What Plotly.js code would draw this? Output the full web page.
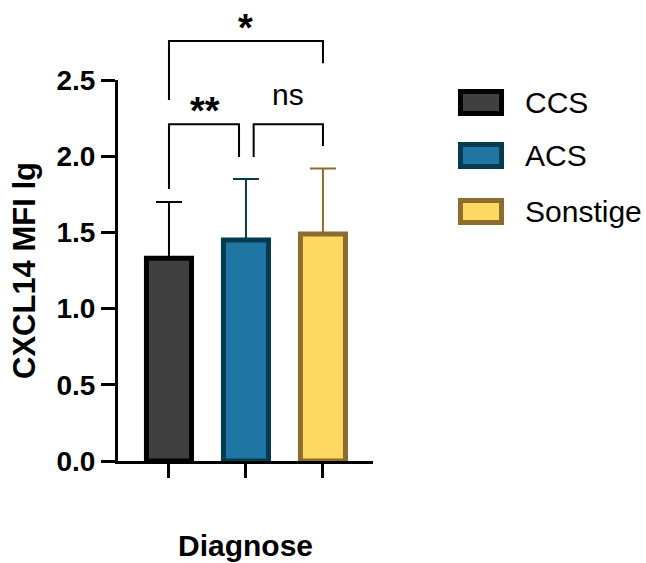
<!DOCTYPE html>
<html>
<head>
<meta charset="utf-8">
<script src="https://cdn.plot.ly/plotly-3.0.1.min.js"></script>
<style>
  html, body { margin: 0; padding: 0; background: #fff; }
  #chart { width: 646px; height: 563px; }
</style>
</head>
<body>
<div id="chart"></div>
<script>
// Group means and upper SD of CXCL14 MFI (lg) per diagnosis
const categories = ['CCS', 'ACS', 'Sonstige'];
const means = [1.33, 1.45, 1.49];
const sdUpper = [0.37, 0.40, 0.43];
const fillColors = ['#404040', '#2076a3', '#fdd862'];
const edgeColors = ['#000000', '#053b4f', '#8c6d2e'];
const yTicks = [0, 0.5, 1.0, 1.5, 2.0, 2.5];
const yTickText = ['0.0', '0.5', '1.0', '1.5', '2.0', '2.5'];

// Significance comparisons: [from, to, bar level, left leg end, right leg end]
const comparisons = [
  [0, 0.91, 2.21, 1.785, 1.995],
  [1.10, 2, 2.21, 1.995, 2.067],
  [0, 2, 2.756, 2.369, 2.61]
];

const yMax = 2.5;
const FONT = 'Liberation Sans, Arial, Helvetica, sans-serif';
const toPaper = v => v / yMax;

const traces = categories.map((name, i) => ({
  type: 'bar',
  name: name,
  x: [i],
  y: [means[i]],
  width: 0.585,
  marker: { color: fillColors[i], line: { color: edgeColors[i], width: 5 } },
  error_y: {
    type: 'data', symmetric: false, array: [sdUpper[i]], arrayminus: [0],
    color: edgeColors[i], thickness: 2, width: 13
  },
  showlegend: false,
  hoverinfo: 'skip'
}));

const shapes = [];
const annotations = [];

comparisons.forEach(([a, b, level, legA, legB]) => {
  shapes.push({
    type: 'path', xref: 'x', yref: 'paper',
    path: `M ${a},${toPaper(legA)} L ${a},${toPaper(level)} L ${b},${toPaper(level)} L ${b},${toPaper(legB)}`,
    line: { color: '#000', width: 2 }
  });
});

annotations.push(
  { text: '**', x: 0.47, y: toPaper(2.21), xref: 'x', yref: 'paper', yanchor: 'bottom', yshift: -10,
    showarrow: false, font: { family: FONT, size: 38, color: '#000', weight: 'bold' } },
  { text: 'ns', x: 1.545, y: toPaper(2.21), xref: 'x', yref: 'paper', yanchor: 'bottom', yshift: 11,
    showarrow: false, font: { family: FONT, size: 30, color: '#000' } },
  { text: '*', x: 1.0, y: toPaper(2.756), xref: 'x', yref: 'paper', yanchor: 'bottom', yshift: -10,
    showarrow: false, font: { family: FONT, size: 38, color: '#000', weight: 'bold' } }
);

// Legend drawn as framed swatches beside the plot
const legendRows = [0.941, 0.802, 0.655];
categories.forEach((name, i) => {
  const yc = legendRows[i];
  shapes.push({
    type: 'rect', xref: 'paper', yref: 'paper',
    x0: 1.343, x1: 1.504, y0: yc - 0.029, y1: yc + 0.029,
    fillcolor: fillColors[i], line: { color: edgeColors[i], width: 5 }
  });
  annotations.push({
    text: name, xref: 'paper', yref: 'paper', x: 1.588, y: yc,
    xanchor: 'left', yanchor: 'middle', showarrow: false,
    font: { family: FONT, size: 30, color: '#000' }
  });
});

const layout = {
  width: 646, height: 563,
  margin: { l: 118, r: 273, t: 80, b: 102, pad: 0 },
  paper_bgcolor: '#fff', plot_bgcolor: '#fff',
  barmode: 'overlay',
  font: { family: FONT, color: '#000' },
  xaxis: {
    range: [-0.662, 2.65],
    tickvals: categories.map((c, i) => i),
    showticklabels: false,
    ticks: 'outside', ticklen: 14, tickwidth: 3, tickcolor: '#000',
    showline: true, linecolor: '#000', linewidth: 3,
    showgrid: false, zeroline: false, fixedrange: true,
    title: { text: 'Diagnose', standoff: 58,
             font: { family: FONT, size: 30, color: '#000', weight: 'bold' } }
  },
  yaxis: {
    range: [0, yMax],
    tickvals: yTicks, ticktext: yTickText,
    ticks: 'outside', ticklen: 14, tickwidth: 3, tickcolor: '#000',
    tickfont: { family: FONT, size: 28, color: '#000', weight: 'bold' },
    showline: true, linecolor: '#000', linewidth: 3,
    showgrid: false, zeroline: false, fixedrange: true,
    title: { text: 'CXCL14 MFI lg', standoff: 12,
             font: { family: FONT, size: 31, color: '#000', weight: 'bold' } }
  },
  shapes: shapes,
  annotations: annotations
};

Plotly.newPlot('chart', traces, layout, { displayModeBar: false, staticPlot: true });
</script>
</body>
</html>
